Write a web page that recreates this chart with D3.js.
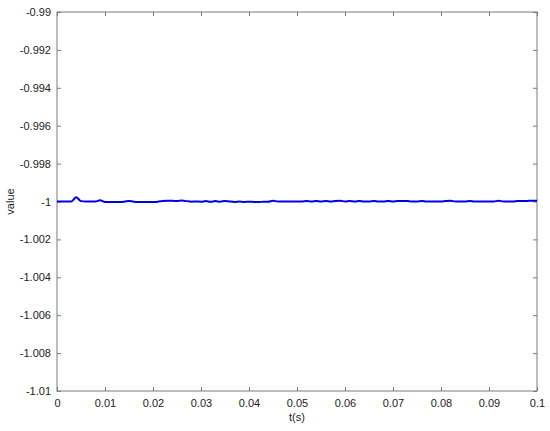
<!DOCTYPE html>
<html><head><meta charset="utf-8">
<script src="https://cdn.jsdelivr.net/npm/d3@7"></script>
<style>body{margin:0;background:#fff}svg{display:block}text{font-family:"Liberation Sans",Arial,sans-serif}</style>
</head><body>
<svg id="c" width="550" height="431"></svg>
<script>
const tValues = d3.range(0, 101).map(i => i / 1000);
const seriesValues = [
 -1.0000,-1.0000,-1.0000,-1.0000,-0.99978,-0.99998,-1.0000,-1.0000,-1.0000,-0.99993,
 -1.00002,-1.00002,-1.00002,-1.00002,-1.00001,-0.99997,-1.00001,-1.00002,-1.00002,-1.00002,
 -1.00002,-1.00001,-0.99997,-0.99996,-0.99996,-0.99998,-0.99995,-0.99998,-1.00001,-1.0000,
 -1.00001,-0.99998,-1.00001,-0.99998,-1.00001,-0.99997,-1.0000,-1.00002,-1.0000,-1.00002,
 -1.00001,-1.00002,-1.00003,-1.00001,-1.00001,-0.99996,-1.0000,-1.0000,-1.0000,-1.0000,
 -1.0000,-1.0000,-0.99998,-1.0000,-0.99997,-1.0000,-0.99998,-1.0000,-0.99997,-0.99996,
 -1.0000,-0.99997,-1.0000,-0.99998,-1.0000,-1.0000,-0.99998,-1.0000,-1.0000,-0.99997,
 -1.0000,-0.99997,-0.99997,-0.99998,-1.0000,-1.0000,-0.99997,-1.0000,-1.0000,-1.0000,
 -1.0000,-0.99997,-0.99996,-1.0000,-1.0000,-1.0000,-0.99997,-1.0000,-1.0000,-1.0000,
 -1.0000,-1.0000,-0.99996,-1.0000,-1.0000,-1.0000,-0.99998,-0.99998,-0.99997,-0.99996,
 -0.99996
];
const xTicks = [0,0.01,0.02,0.03,0.04,0.05,0.06,0.07,0.08,0.09,0.1];
const yTicks = [-1.01,-1.008,-1.006,-1.004,-1.002,-1,-0.998,-0.996,-0.994,-0.992,-0.99];
const xTickLabels = ["0","0.01","0.02","0.03","0.04","0.05","0.06","0.07","0.08","0.09","0.1"];
const yTickLabels = ["-1.01","-1.008","-1.006","-1.004","-1.002","-1","-0.998","-0.996","-0.994","-0.992","-0.99"];

const L=57, R=537, T=12, B=391;
const svg = d3.select("#c");
const x = d3.scaleLinear().domain([0,0.1]).range([L,R]);
const y = d3.scaleLinear().domain([-1.01,-0.99]).range([B,T]);
const axisColor = "#7a7a7a";
const tl = 4;

function style(g){
  g.select(".domain").remove();
  g.selectAll(".tick line").attr("stroke",axisColor);
  g.selectAll(".tick text").attr("fill","#222").style("font-size","11px");
}
svg.append("g").attr("transform",`translate(0,${B})`)
  .call(d3.axisBottom(x).tickValues(xTicks).tickFormat((d,i)=>xTickLabels[i]).tickSizeInner(-tl).tickSizeOuter(0).tickPadding(8))
  .call(style);
svg.append("g").attr("transform",`translate(0,${T})`)
  .call(d3.axisTop(x).tickValues(xTicks).tickFormat("").tickSizeInner(-tl).tickSizeOuter(0))
  .call(style);
svg.append("g").attr("transform",`translate(${L},0)`)
  .call(d3.axisLeft(y).tickValues(yTicks).tickFormat((d,i)=>yTickLabels[i]).tickSizeInner(-tl).tickSizeOuter(0).tickPadding(6))
  .call(style);
svg.append("g").attr("transform",`translate(${R},0)`)
  .call(d3.axisRight(y).tickValues(yTicks).tickFormat("").tickSizeInner(-tl).tickSizeOuter(0))
  .call(style);

svg.append("rect").attr("x",L).attr("y",T).attr("width",R-L).attr("height",B-T)
  .attr("fill","none").attr("stroke",axisColor).attr("stroke-width",1);

svg.append("path").datum(tValues.map((t,i)=>[t,seriesValues[i]]))
  .attr("fill","none").attr("stroke","#0000e6").attr("stroke-width",2)
  .attr("d", d3.line().x(d=>x(d[0])).y(d=>y(d[1])).curve(d3.curveMonotoneX));

svg.append("text").attr("x",(L+R)/2).attr("y",421).attr("text-anchor","middle")
  .style("font-size","11px").attr("fill","#222").text("t(s)");
svg.append("text").attr("transform",`translate(14,${(T+B)/2}) rotate(-90)`).attr("text-anchor","middle")
  .style("font-size","11px").attr("fill","#222").text("value");
</script>
</body></html>
